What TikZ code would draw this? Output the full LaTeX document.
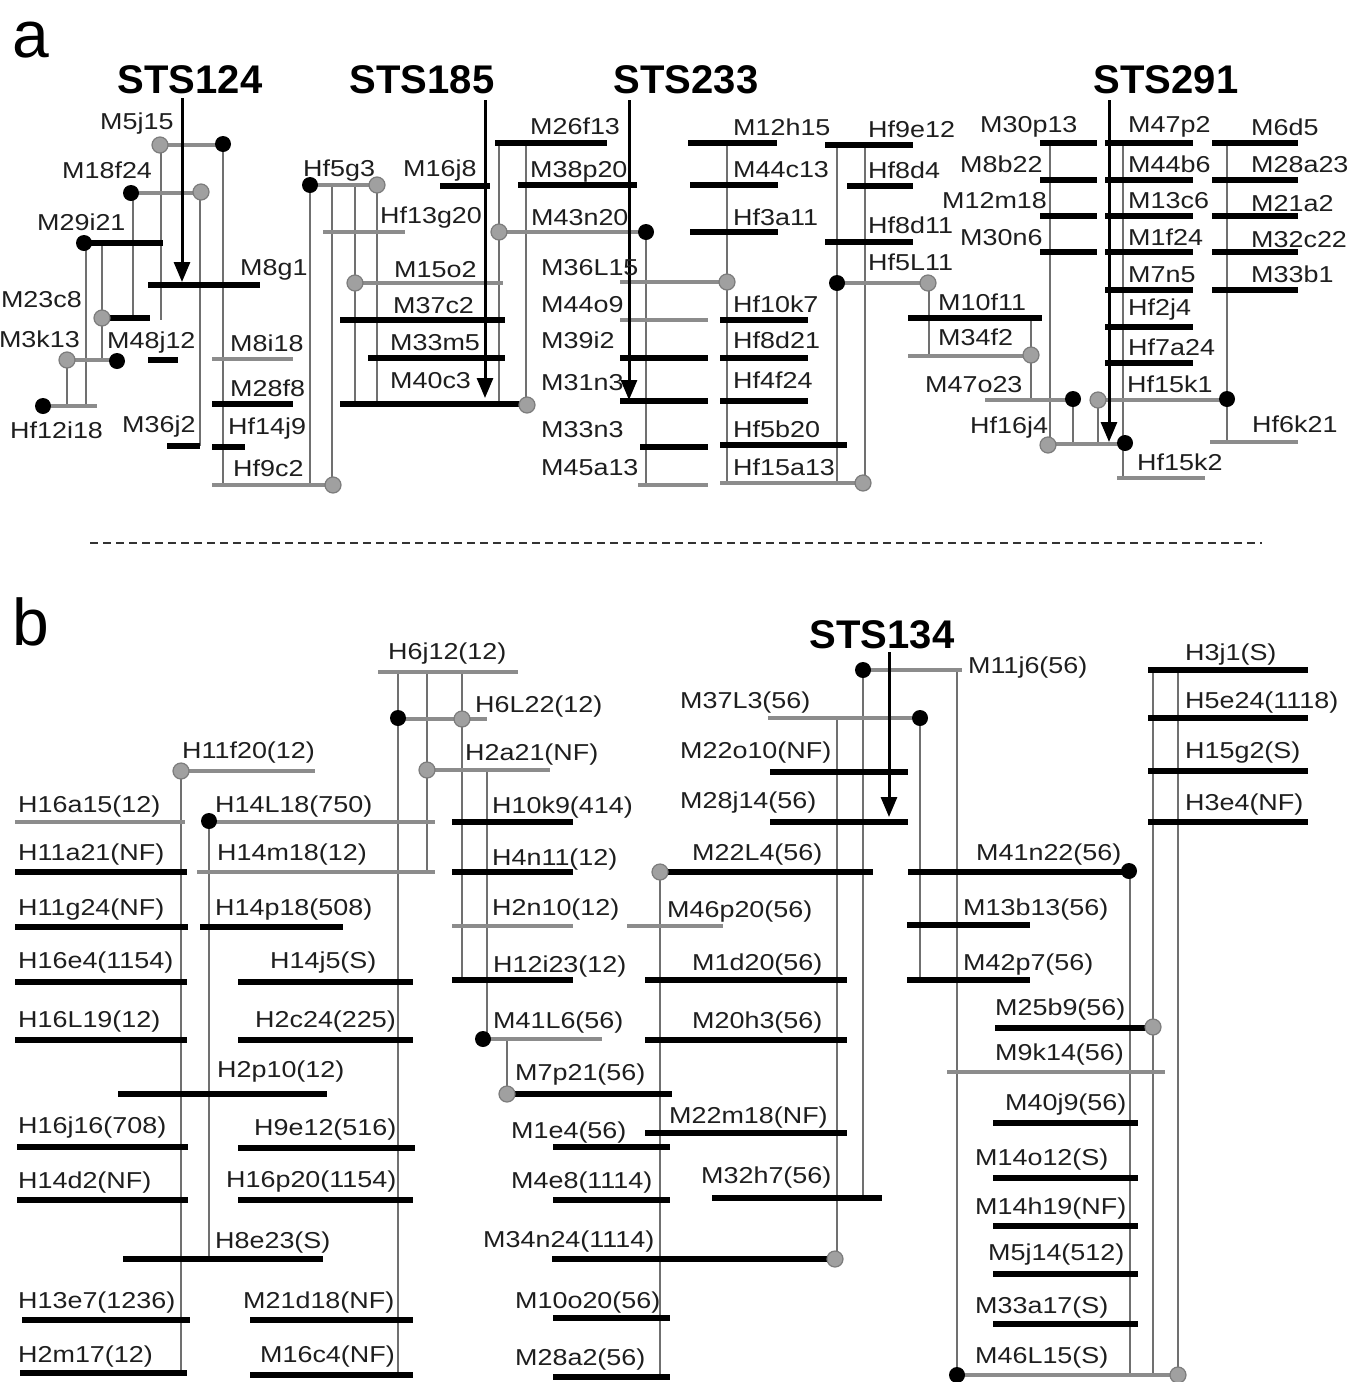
\documentclass[tikz,border=0pt]{standalone}
\usepackage{fontspec}
\setmainfont{Liberation Sans}
\newfontfamily\lblfont[FakeStretch=1.17]{Liberation Sans}
\usetikzlibrary{arrows.meta}
\definecolor{barg}{HTML}{8C8C8C}
\definecolor{vg}{HTML}{707070}
\definecolor{dotg}{HTML}{A0A0A0}
\definecolor{dotgo}{HTML}{7C7C7C}
\definecolor{txt}{HTML}{1E1E1E}
\tikzset{
 blk/.style={line width=6pt, black},
 gry/.style={line width=4.5pt, barg},
 vln/.style={line width=2.6pt, vg},
 lbl/.style={anchor=base west, inner sep=0pt, text=txt, font=\lblfont\fontsize{23}{23}\selectfont},
 lblr/.style={lbl, anchor=base east},
 ttl/.style={anchor=base, inner sep=0pt, font=\fontsize{40}{40}\selectfont\bfseries},
 pan/.style={anchor=base west, inner sep=0pt, font=\fontsize{66}{66}\selectfont},
 stsarrow/.style={line width=3pt, black, -{Triangle[length=20pt,width=16pt]}},
}
\newcounter{lbc}
\newcommand\lb[3]{\stepcounter{lbc}\node[lbl] (t\arabic{lbc}) at (#1,#2) {#3};}
\newcommand\lbr[3]{\stepcounter{lbc}\node[lblr] (t\arabic{lbc}) at (#1,#2) {#3};}
\newcommand\bk[3]{\draw[blk] (#1,#3) -- (#2,#3);}
\newcommand\gy[3]{\draw[gry] (#1,#3) -- (#2,#3);}
\newcommand\vl[3]{\draw[vln] (#1,#2) -- (#1,#3);}
\newcommand\bd[2]{\fill[black] (#1,#2) circle[radius=8pt];}
\newcommand\gd[2]{\filldraw[fill=dotg, draw=dotgo, line width=1.2pt] (#1,#2) circle[radius=8pt];}
\begin{document}
\begin{tikzpicture}[x=1pt,y=-1pt]
\useasboundingbox (0,0) rectangle (1352,1382);
\clip (0,0) rectangle (1352,1382);
\fill[white] (0,0) rectangle (1352,1382);

% ================= panel a =================
\node[pan] (pa) at (12,57) {a};
\node[ttl] (s124) at (190,93) {STS124};
\node[ttl] (s185) at (422,93) {STS185};
\node[ttl] (s233) at (686,93) {STS233};
\node[ttl] (s291) at (1166,93) {STS291};

% verticals
\vl{86}{243}{406}
\vl{102}{243}{360}
\vl{67}{360}{406}
\vl{133}{193}{318}
\vl{161}{145}{320}
\vl{200}{192}{446}
\vl{223}{144}{485}
\vl{310}{185}{485}
\vl{332}{185}{485}
\vl{355}{185}{404}
\vl{377}{185}{404}
\vl{499}{143}{404}
\vl{526}{143}{405}
\vl{646}{232}{485}
\vl{727}{143}{485}
\vl{837}{145}{483}
\vl{865}{145}{483}
\vl{929}{283}{356}
\vl{1031}{318}{400}
\vl{1050}{143}{445}
\vl{1073}{399}{445}
\vl{1098}{400}{445}
\vl{1123}{143}{478}
\vl{1227}{143}{442}

% bars
\gy{160}{223}{145}
\gy{131}{201}{193}
\bk{84}{163}{243}
\bk{148}{260}{285}
\bk{102}{150}{318}
\gy{67}{117}{360}
\bk{148}{178}{360}
\gy{43}{97}{406}
\bk{167}{200}{446}
\gy{212}{293}{359}
\bk{212}{293}{404}
\bk{212}{245}{447}
\gy{212}{333}{485}
\gy{310}{377}{185}
\gy{323}{405}{232}
\bk{440}{490}{186}
\gy{355}{503}{283}
\bk{340}{505}{320}
\bk{368}{505}{358}
\bk{340}{527}{404}
\bk{495}{607}{143}
\bk{518}{637}{185}
\gy{499}{646}{232}
\gy{620}{727}{282}
\gy{620}{708}{320}
\bk{620}{708}{358}
\bk{620}{708}{401}
\bk{640}{708}{447}
\gy{638}{708}{485}
\bk{688}{777}{143}
\bk{690}{778}{185}
\bk{690}{778}{232}
\bk{720}{808}{320}
\bk{720}{808}{358}
\bk{720}{808}{401}
\bk{720}{847}{445}
\gy{720}{863}{483}
\bk{825}{913}{145}
\bk{847}{913}{186}
\bk{825}{913}{242}
\gy{837}{928}{283}
\bk{908}{1042}{318}
\gy{908}{1031}{356}
\gy{985}{1073}{400}
\gy{1098}{1227}{400}
\gy{1048}{1125}{444}
\gy{1117}{1205}{478}
\gy{1210}{1298}{442}
\foreach \yy in {143,180,216,252} {\bk{1040}{1097}{\yy}}
\foreach \yy in {143,180,216,252,290,327,363} {\bk{1105}{1193}{\yy}}
\foreach \yy in {143,180,216,252,290} {\bk{1212}{1298}{\yy}}

% dots
\gd{160}{145}\gd{201}{192}\gd{102}{318}\gd{67}{360}\gd{333}{485}
\gd{377}{185}\gd{355}{283}\gd{527}{405}\gd{499}{232}\gd{727}{282}
\gd{863}{483}\gd{928}{283}\gd{1031}{355}\gd{1098}{400}\gd{1048}{445}
\bd{223}{144}\bd{131}{193}\bd{84}{243}\bd{117}{361}\bd{43}{406}
\bd{310}{185}\bd{646}{232}\bd{837}{283}\bd{1073}{399}\bd{1227}{399}\bd{1125}{443}

% arrows
\coordinate (a124t) at (182,98); \coordinate (a124b) at (182,282);
\coordinate (a185t) at (485,100); \coordinate (a185b) at (485,398);
\coordinate (a233t) at (629,100); \coordinate (a233b) at (629,400);
\coordinate (a291t) at (1109,100); \coordinate (a291b) at (1109,442);
\draw[stsarrow] (a124t) -- (a124b);
\draw[stsarrow] (a185t) -- (a185b);
\draw[stsarrow] (a233t) -- (a233b);
\draw[stsarrow] (a291t) -- (a291b);

% labels
\lb{100}{129}{M5j15}
\lb{62}{178}{M18f24}
\lb{37}{230}{M29i21}
\lb{240}{275}{M8g1}
\lbr{82}{307}{M23c8}
\lbr{80}{347}{M3k13}
\lb{107}{348}{M48j12}
\lb{10}{438}{Hf12i18}
\lb{122}{432}{M36j2}
\lb{230}{351}{M8i18}
\lb{230}{396}{M28f8}
\lb{228}{434}{Hf14j9}
\lb{233}{476}{Hf9c2}
\lb{303}{176}{Hf5g3}
\lb{403}{176}{M16j8}
\lb{380}{223}{Hf13g20}
\lb{394}{277}{M15o2}
\lb{393}{313}{M37c2}
\lb{390}{350}{M33m5}
\lb{390}{388}{M40c3}
\lb{530}{134}{M26f13}
\lb{530}{177}{M38p20}
\lb{531}{225}{M43n20}
\lb{541}{275}{M36L15}
\lb{541}{312}{M44o9}
\lb{541}{348}{M39i2}
\lb{541}{390}{M31n3}
\lb{541}{437}{M33n3}
\lb{541}{475}{M45a13}
\lb{733}{135}{M12h15}
\lb{733}{177}{M44c13}
\lb{733}{225}{Hf3a11}
\lb{733}{312}{Hf10k7}
\lb{733}{348}{Hf8d21}
\lb{733}{388}{Hf4f24}
\lb{733}{437}{Hf5b20}
\lb{733}{475}{Hf15a13}
\lb{868}{137}{Hf9e12}
\lb{868}{178}{Hf8d4}
\lb{868}{233}{Hf8d11}
\lb{868}{270}{Hf5L11}
\lb{980}{132}{M30p13}
\lb{960}{172}{M8b22}
\lb{942}{208}{M12m18}
\lb{960}{245}{M30n6}
\lb{1128}{132}{M47p2}
\lb{1128}{172}{M44b6}
\lb{1128}{208}{M13c6}
\lb{1128}{245}{M1f24}
\lb{1128}{282}{M7n5}
\lb{1128}{315}{Hf2j4}
\lb{1128}{355}{Hf7a24}
\lb{1127}{392}{Hf15k1}
\lb{1251}{135}{M6d5}
\lb{1251}{172}{M28a23}
\lb{1251}{211}{M21a2}
\lb{1251}{247}{M32c22}
\lb{1251}{282}{M33b1}
\lb{938}{310}{M10f11}
\lb{938}{345}{M34f2}
\lb{925}{392}{M47o23}
\lb{970}{433}{Hf16j4}
\lb{1137}{470}{Hf15k2}
\lb{1252}{432}{Hf6k21}

% separator
\coordinate (sepl) at (90,543); \coordinate (sepr) at (1262,543);
\draw[line width=2.5pt, black!80, dash pattern=on 8pt off 5pt] (sepl) -- (sepr);

% ================= panel b =================
\node[pan] (pb) at (12,645) {b};
\node[ttl] (s134) at (882,648) {STS134};

% verticals
\vl{181}{771}{1373}
\vl{209}{821}{1259}
\vl{398}{672}{1375}
\vl{427}{672}{872}
\vl{462}{672}{980}
\vl{487}{770}{1039}
\vl{507}{1039}{1094}
\vl{660}{872}{1377}
\vl{837}{718}{1259}
\vl{863}{670}{1198}
\vl{920}{718}{980}
\vl{957}{670}{1375}
\vl{1130}{871}{1375}
\vl{1153}{670}{1375}
\vl{1178}{670}{1375}

% bars
\gy{378}{518}{672}
\gy{398}{487}{719}
\gy{427}{550}{770}
\gy{181}{315}{771}
\gy{15}{185}{822}
\gy{209}{435}{822}
\bk{452}{573}{822}
\bk{15}{187}{872}
\gy{197}{435}{872}
\bk{452}{573}{872}
\bk{15}{188}{927}
\bk{200}{343}{927}
\gy{452}{573}{926}
\gy{627}{723}{926}
\bk{15}{187}{982}
\bk{238}{413}{982}
\bk{452}{573}{980}
\bk{15}{187}{1040}
\bk{238}{413}{1040}
\bk{118}{327}{1094}
\bk{17}{188}{1147}
\bk{238}{415}{1148}
\bk{17}{188}{1200}
\bk{238}{413}{1200}
\bk{123}{323}{1259}
\bk{22}{190}{1320}
\bk{250}{413}{1320}
\bk{20}{187}{1373}
\bk{250}{413}{1375}
\gy{483}{602}{1039}
\bk{507}{672}{1094}
\bk{553}{670}{1147}
\bk{645}{847}{1133}
\bk{553}{670}{1200}
\bk{712}{882}{1198}
\bk{552}{835}{1259}
\bk{553}{670}{1318}
\bk{553}{670}{1377}
\bk{645}{847}{1040}
\bk{660}{873}{872}
\bk{645}{847}{980}
\gy{768}{920}{718}
\bk{770}{908}{772}
\bk{770}{908}{822}
\gy{863}{962}{670}
\bk{908}{1129}{872}
\bk{907}{1030}{925}
\bk{907}{1030}{980}
\foreach \yy in {670,718,771,822} {\bk{1148}{1308}{\yy}}
\bk{995}{1153}{1028}
\gy{947}{1165}{1072}
\foreach \yy in {1123,1178,1226,1274,1324} {\bk{993}{1138}{\yy}}
\gy{957}{1178}{1375}

% dots
\bd{398}{718}\bd{209}{821}\bd{483}{1039}\bd{863}{670}\bd{920}{718}\bd{1129}{871}\bd{957}{1375}
\gd{462}{719}\gd{427}{770}\gd{181}{771}\gd{507}{1094}\gd{660}{872}\gd{835}{1259}\gd{1153}{1027}\gd{1178}{1375}

% arrow
\coordinate (a134t) at (889,652); \coordinate (a134b) at (889,817);
\draw[stsarrow] (a134t) -- (a134b);

% labels
\lb{388}{659}{H6j12(12)}
\lb{475}{712}{H6L22(12)}
\lb{465}{760}{H2a21(NF)}
\lb{182}{758}{H11f20(12)}
\lb{18}{812}{H16a15(12)}
\lb{215}{812}{H14L18(750)}
\lb{492}{813}{H10k9(414)}
\lb{18}{860}{H11a21(NF)}
\lb{217}{860}{H14m18(12)}
\lb{492}{865}{H4n11(12)}
\lb{18}{915}{H11g24(NF)}
\lb{215}{915}{H14p18(508)}
\lb{492}{915}{H2n10(12)}
\lb{667}{917}{M46p20(56)}
\lb{18}{968}{H16e4(1154)}
\lb{270}{968}{H14j5(S)}
\lb{493}{972}{H12i23(12)}
\lb{692}{970}{M1d20(56)}
\lb{18}{1027}{H16L19(12)}
\lb{255}{1027}{H2c24(225)}
\lb{493}{1028}{M41L6(56)}
\lb{692}{1028}{M20h3(56)}
\lb{217}{1077}{H2p10(12)}
\lb{515}{1080}{M7p21(56)}
\lb{18}{1133}{H16j16(708)}
\lb{254}{1135}{H9e12(516)}
\lb{669}{1123}{M22m18(NF)}
\lb{511}{1138}{M1e4(56)}
\lb{18}{1188}{H14d2(NF)}
\lb{226}{1187}{H16p20(1154)}
\lb{511}{1188}{M4e8(1114)}
\lb{701}{1183}{M32h7(56)}
\lb{215}{1248}{H8e23(S)}
\lb{483}{1247}{M34n24(1114)}
\lb{18}{1308}{H13e7(1236)}
\lb{243}{1308}{M21d18(NF)}
\lb{515}{1308}{M10o20(56)}
\lb{18}{1362}{H2m17(12)}
\lb{260}{1362}{M16c4(NF)}
\lb{515}{1365}{M28a2(56)}
\lb{680}{708}{M37L3(56)}
\lb{680}{758}{M22o10(NF)}
\lb{680}{808}{M28j14(56)}
\lb{692}{860}{M22L4(56)}
\lb{968}{673}{M11j6(56)}
\lb{976}{860}{M41n22(56)}
\lb{963}{915}{M13b13(56)}
\lb{963}{970}{M42p7(56)}
\lb{1185}{660}{H3j1(S)}
\lb{1185}{708}{H5e24(1118)}
\lb{1185}{758}{H15g2(S)}
\lb{1185}{810}{H3e4(NF)}
\lb{995}{1015}{M25b9(56)}
\lb{995}{1060}{M9k14(56)}
\lb{1005}{1110}{M40j9(56)}
\lb{975}{1165}{M14o12(S)}
\lb{975}{1214}{M14h19(NF)}
\lb{988}{1260}{M5j14(512)}
\lb{975}{1313}{M33a17(S)}
\lb{975}{1363}{M46L15(S)}
\end{tikzpicture}
\end{document}
